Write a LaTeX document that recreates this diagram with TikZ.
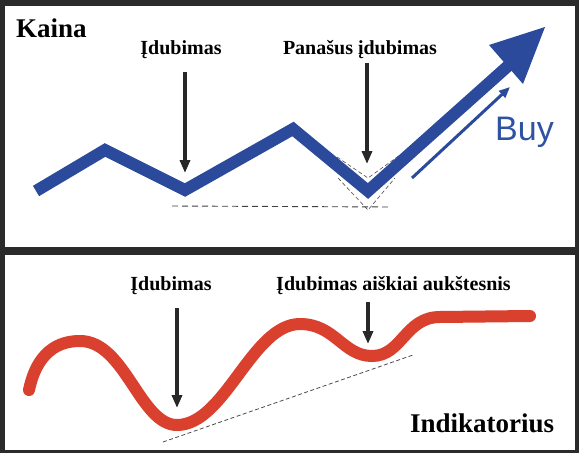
\documentclass[tikz,border=0pt]{standalone}
\usepackage{fontspec}
\setmainfont{Liberation Serif}
\newfontfamily\buyfont{Liberation Sans}
\usetikzlibrary{arrows.meta}
\definecolor{frame}{RGB}{43,43,43}
\definecolor{priceblue}{RGB}{43,74,155}
\definecolor{buyblue}{RGB}{48,82,162}
\definecolor{indred}{RGB}{217,64,46}
\definecolor{arrowgray}{RGB}{40,40,40}
\tikzset{
  panel/.style={fill=white,draw=none},
  pointer/.style={draw=arrowgray,line width=3.2pt,-{Triangle[length=13pt,width=10pt]}},
  lbl/.style={font=\bfseries\fontsize{20}{22}\selectfont,inner sep=0pt,anchor=base},
  title/.style={font=\bfseries\fontsize{27}{30}\selectfont,inner sep=0pt,anchor=base west},
  priceline/.style={draw=priceblue,line width=12pt,miter limit=10,line join=miter},
  guide/.style={draw=black!75,line width=0.9pt,dash pattern=on 6pt off 4pt},
  thinguide/.style={draw=black!70,line width=0.6pt,dash pattern=on 4pt off 2.5pt},
  indline/.style={draw=indred,line width=12pt,line cap=round}
}
\begin{document}
\begin{tikzpicture}[x=1pt,y=-1pt]
\useasboundingbox (0,0) rectangle (579,453);
\fill[frame] (0,0) rectangle (579,453);
\fill[panel] (5,6) rectangle (575,247);
\fill[panel] (5,255) rectangle (575,450);

% ---------- top panel ----------
\node[title] (kaina) at (16,37) {Kaina};
\node[lbl] (dip1) at (181,54) {Įdubimas};
\node[lbl] (dip2) at (360,54) {Panašus įdubimas};

% guide lines
\coordinate (g1a) at (172,206);
\coordinate (g1b) at (390,207);
\draw[guide] (g1a) -- (g1b);
\coordinate (vi1) at (337,157); \coordinate (vi2) at (368,178); \coordinate (vi3) at (400,155);
\coordinate (vo1) at (338,178); \coordinate (vo2) at (368,210); \coordinate (vo3) at (395,178);
\draw[thinguide] (vi1) -- (vi2) -- (vi3);
\draw[thinguide] (vo1) -- (vo2) -- (vo3);

% price zigzag
\coordinate (p0) at (36,191);
\coordinate (p1) at (105,150);
\coordinate (p2) at (185,190);
\coordinate (p3) at (293,129);
\coordinate (p4) at (368,191);
\coordinate (p5) at (508,66);
\draw[priceline] (p0) -- (p1) -- (p2) -- (p3) -- (p4) -- (p5);
\coordinate (tip) at (545,27);
\coordinate (hl) at (489,45);
\coordinate (hr) at (523,84);
\fill[priceblue] (tip) -- (hl) -- (hr) -- cycle;

% buy arrow and label
\coordinate (ba) at (412,178);
\coordinate (bb) at (510,87);
\draw[draw=priceblue,line width=3pt,-{Triangle[length=11pt,width=9pt]}] (ba) -- (bb);
\node[font=\buyfont\fontsize{34}{36}\selectfont,text=buyblue,inner sep=0pt,anchor=base west] (buy) at (495,140) {Buy};

% pointers
\coordinate (a1s) at (185,72); \coordinate (a1e) at (185,173);
\coordinate (a2s) at (367,63); \coordinate (a2e) at (367,164);
\draw[pointer] (a1s) -- (a1e);
\draw[pointer] (a2s) -- (a2e);

% ---------- bottom panel ----------
\node[lbl] (dip3) at (171,290) {Įdubimas};
\node[lbl] (dip4) at (393.5,290) {Įdubimas aiškiai aukštesnis};
\node[title] (ind) at (410,432) {Indikatorius};

\coordinate (t1) at (163,442);
\coordinate (t2) at (413,355);
\draw[thinguide,line width=0.8pt] (t1) -- (t2);

\coordinate (r0) at (29,390);
\coordinate (r1) at (80,341);
\coordinate (r2) at (177,425);
\coordinate (r3) at (300,324);
\coordinate (r4) at (372,356);
\coordinate (r5) at (440,317);
\coordinate (r6) at (530,316);
\draw[indline] (r0) .. controls (37,352) and (58,341) .. (r1)
  .. controls (125,341) and (140,425) .. (r2)
  .. controls (225,425) and (252,324) .. (r3)
  .. controls (335,324) and (343,356) .. (r4)
  .. controls (402,356) and (405,317) .. (r5)
  -- (r6);

\coordinate (a3s) at (177,308); \coordinate (a3e) at (177,408);
\coordinate (a4s) at (368,302); \coordinate (a4e) at (368,344);
\draw[pointer] (a3s) -- (a3e);
\draw[pointer] (a4s) -- (a4e);
\end{tikzpicture}
\end{document}
